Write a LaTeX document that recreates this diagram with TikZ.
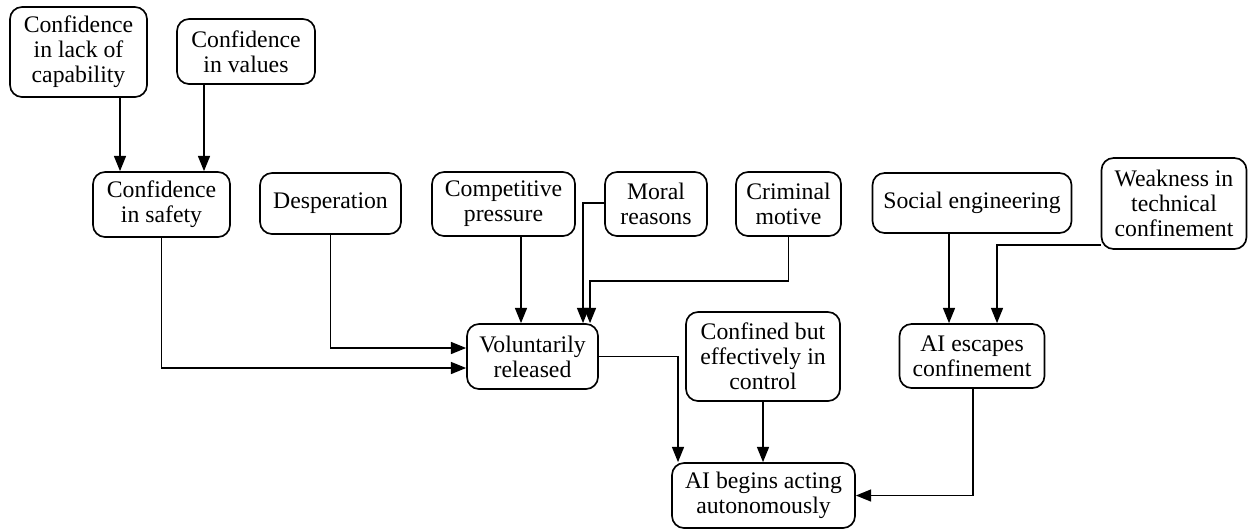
\documentclass[tikz,border=0pt]{standalone}
\usepackage{fontspec}
\setmainfont{Liberation Serif}
\usetikzlibrary{calc,arrows.meta}
\begin{document}
\begin{tikzpicture}[x=0.75pt,y=-0.75pt,
  box/.style={draw,line width=1.25pt,rounded corners=9pt,align=center,
    inner sep=0pt,font=\fontsize{17.8}{18.6}\selectfont},
  arr/.style={line width=1.25pt,-{Triangle[length=11.5pt,width=9pt]}}]
\useasboundingbox (0,0) rectangle (1248,529);
\node[box,minimum width=102.75pt,minimum height=67.5pt] (cap) at (78.5,52) {Confidence\\in lack of\\capability};
\node[box,minimum width=103.5pt,minimum height=48.75pt] (val) at (246,51.5) {Confidence\\in values};
\node[box,minimum width=102.75pt,minimum height=48.75pt] (safe) at (161.5,204.5) {Confidence\\in safety};
\node[box,minimum width=105.75pt,minimum height=45.75pt] (desp) at (330.5,203.5) {Desperation};
\node[box,minimum width=107.25pt,minimum height=48pt] (comp) at (503.5,204) {Competitive\\pressure};
\node[box,minimum width=76.5pt,minimum height=48pt] (moral) at (656,204) {Moral\\reasons};
\node[box,minimum width=78.75pt,minimum height=48pt] (crim) at (788.5,204) {Criminal\\motive};
\node[box,minimum width=98.25pt,minimum height=48.75pt] (vol) at (532.5,356.5) {Voluntarily\\released};
\node[box,minimum width=115.5pt,minimum height=66.75pt] (conf) at (763,356.5) {Confined but\\effectively in\\control};
\node[box,minimum width=108.75pt,minimum height=48pt] (esc) at (972,356) {AI escapes\\confinement};
\node[box,minimum width=149.25pt,minimum height=45pt] (soc) at (972,203) {Social engineering};
\node[box,minimum width=108.75pt,minimum height=68.25pt] (weak) at (1174,203.5) {Weakness in\\technical\\confinement};
\node[box,minimum width=137.25pt,minimum height=48.75pt] (begin) at (763.5,495.5) {AI begins acting\\autonomously};

\draw[arr] ($(cap.south)+(41.5,0)$) -- ($(safe.north)+(-41.5,0)$);
\draw[arr] ($(val.south)+(-42,0)$) -- ($(safe.north)+(42.5,0)$);
\draw[arr] (safe.south) |- ($(vol.west)+(0,11.5)$);
\draw[arr] (desp.south) |- ($(vol.west)+(0,-8.5)$);
\draw[arr] ($(comp.south)+(17.5,0)$) -- ($(vol.north)+(-11.5,0)$);
\draw[arr] ($(moral.west)+(0,-1)$) -| ($(vol.north)+(50.5,0)$);
\draw[arr] (crim.south) -- ++(0,44) -| ($(vol.north)+(57.5,0)$);
\draw[arr] (vol.east) -| ($(begin.north)+(-85.5,0)$);
\draw[arr] (conf.south) -- (conf.south |- begin.north);
\draw[arr] ($(soc.south)+(-23,0)$) -- ($(esc.north)+(-23,0)$);
\draw[arr] ($(weak.west)+(0,41.5)$) -| ($(esc.north)+(25,0)$);
\draw[arr] ($(esc.south)+(1,0)$) |- (begin.east);
\end{tikzpicture}
\end{document}
